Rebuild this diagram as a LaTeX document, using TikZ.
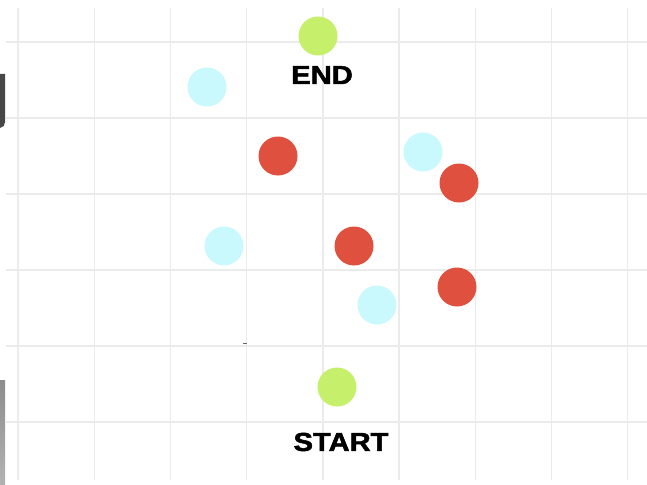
\documentclass[tikz,border=0pt]{standalone}
\usepackage{fontspec}
\setmainfont{Liberation Sans}
\newfontfamily\heavy{Liberation Sans}[BoldFeatures={FakeBold=1.8}]
\begin{document}
\begin{tikzpicture}[x=1pt,y=-1pt,
  gridline/.style={draw=black!8,line width=1.4pt},
  dot/.style={circle,minimum size=39pt,inner sep=0pt,draw=none},
  goaldot/.style={dot,fill=lime},
  bluedot/.style={dot,fill=cyanlight},
  reddot/.style={dot,fill=redball},
  lbl/.style={font=\heavy\fontsize{26}{26}\selectfont\bfseries,text=black,xscale=1.12,inner sep=0pt}]
\definecolor{lime}{HTML}{C6F06C}
\definecolor{cyanlight}{HTML}{C9F9FC}
\definecolor{redball}{HTML}{E0503F}
\useasboundingbox[fill=white] (0,0) rectangle (647,484);
% grid
\foreach \gx in {18,94.2,170.4,246.6,322.8,399,475.2,551.4,627.6}
  \draw[gridline] (\gx,8) -- (\gx,480);
\foreach \gy in {42,118,194,270,346,422}
  \draw[gridline] (6,\gy) -- (647,\gy);
% edge artifacts
\fill[black!72] (0,74) -- (5,74) -- (5,122) to[out=-90,in=0] (0,128) -- cycle;
\shade[top color=black!45,bottom color=black!30] (0,380) rectangle (5,484);
\draw[black!60,line width=0.8pt] (243,343) -- (247,343);
% balls
\node[goaldot] (end) at (318,36) {};
\node[lbl] (endlbl) at (322,75) {END};
\node[bluedot] (b1) at (207,87) {};
\node[reddot] (r1) at (278,156) {};
\node[bluedot] (b2) at (423,152) {};
\node[reddot] (r2) at (459,183) {};
\node[bluedot] (b3) at (224,246) {};
\node[reddot] (r3) at (354,246) {};
\node[reddot] (r4) at (457,287) {};
\node[bluedot] (b4) at (377,305) {};
\node[goaldot] (start) at (337,387) {};
\node[lbl] (startlbl) at (341,442) {START};
\end{tikzpicture}
\end{document}
